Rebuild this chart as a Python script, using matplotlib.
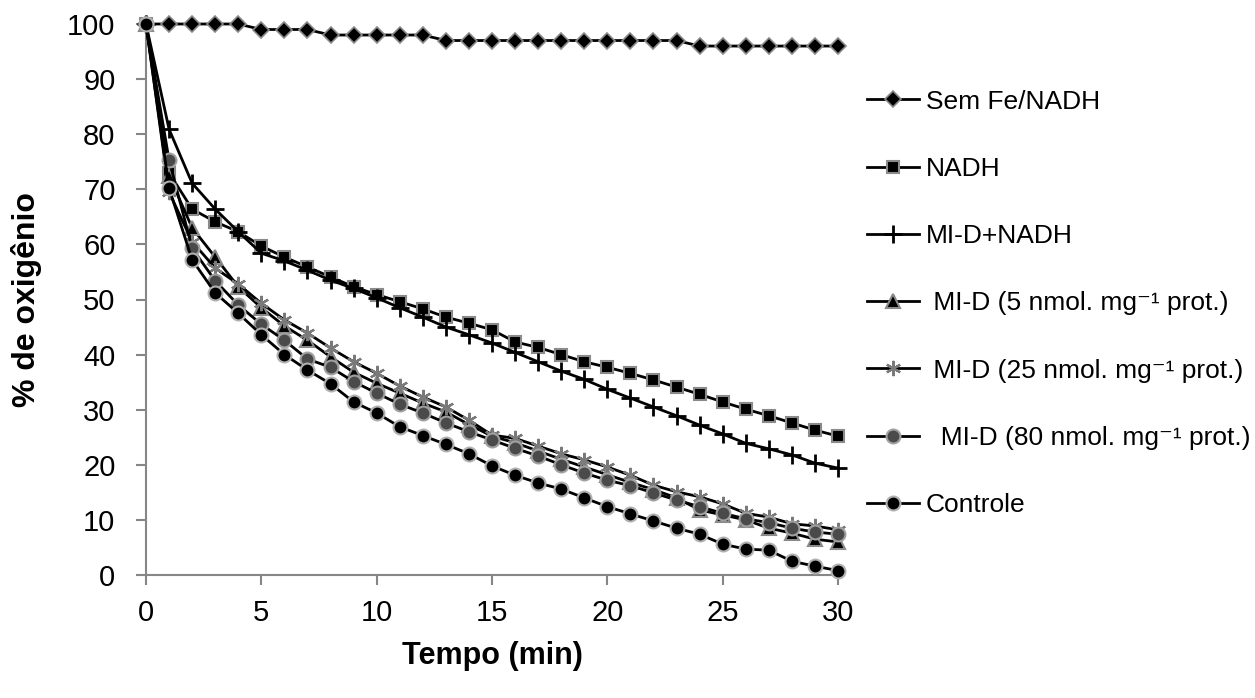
import matplotlib
matplotlib.use("Agg")
import matplotlib.pyplot as plt
import numpy as np

plt.rcParams['font.family'] = ['Liberation Sans', 'DejaVu Sans']

tempo = list(range(31))

sem_fe = [100, 100, 100, 100, 100, 99, 99, 99, 98, 98, 98, 98, 98, 97, 97, 97,
          97, 97, 97, 97, 97, 97, 97, 97, 96, 96, 96, 96, 96, 96, 96]
nadh = [100, 73.0, 66.4, 64.1, 62.3, 59.7, 57.7, 55.9, 54.1, 52.3, 50.9, 49.6,
        48.3, 46.8, 45.7, 44.5, 42.3, 41.3, 40.0, 38.7, 37.7, 36.6, 35.4, 34.1,
        32.8, 31.4, 30.1, 28.9, 27.6, 26.3, 25.2]
mid_nadh = [100, 80.9, 71.1, 66.4, 62.3, 58.4, 57.0, 55.3, 53.5, 52.0, 50.3,
            48.5, 46.8, 45.0, 43.6, 42.1, 40.4, 38.7, 37.0, 35.5, 33.7, 32.1,
            30.5, 28.9, 27.2, 25.6, 23.9, 22.9, 21.8, 20.3, 19.4]
mid_5 = [100, 72.5, 63.0, 57.7, 52.3, 48.5, 45.2, 42.6, 39.6, 36.8, 34.8, 33.0,
         31.2, 29.6, 27.3, 25.2, 24.0, 22.5, 21.0, 19.6, 18.2, 16.8, 15.5, 14.0,
         11.8, 10.9, 10.0, 8.5, 7.6, 6.5, 6.0]
mid_25 = [100, 69.5, 60.5, 55.7, 52.8, 49.3, 46.3, 43.9, 41.2, 38.7, 36.6, 34.3,
          32.3, 30.5, 28.1, 25.4, 24.8, 23.4, 22.0, 20.9, 19.6, 18.1, 16.3, 15.1,
          14.2, 12.9, 11.2, 10.5, 9.3, 8.9, 8.2]
mid_80 = [100, 75.3, 59.3, 53.4, 49.0, 45.5, 42.6, 39.2, 37.7, 35.1, 33.0, 31.0,
          29.4, 27.6, 26.0, 24.5, 23.0, 21.6, 20.0, 18.5, 17.2, 16.2, 14.9, 13.6,
          12.4, 11.2, 10.2, 9.5, 8.5, 7.8, 7.4]
controle = [100, 70.2, 57.2, 51.2, 47.5, 43.6, 40.0, 37.2, 34.7, 31.4, 29.4,
            26.9, 25.3, 23.7, 22.0, 19.8, 18.1, 16.7, 15.6, 14.0, 12.4, 11.1,
            9.8, 8.5, 7.4, 5.6, 4.7, 4.5, 2.5, 1.6, 0.8]

labels = ["Sem Fe/NADH", "NADH", "MI-D+NADH",
          " MI-D (5 nmol. mg\u207b\u00b9 prot.)",
          " MI-D (25 nmol. mg\u207b\u00b9 prot.)",
          "  MI-D (80 nmol. mg\u207b\u00b9 prot.)",
          "Controle"]

fig = plt.figure(figsize=(12.55, 6.98), dpi=100)
ax = fig.add_axes([146/1255, 1-575/698, (838-146)/1255, (575-24)/698])

lw = 2.0
edge = '#8a8a8a'
ax.plot(tempo, sem_fe, color='black', lw=lw, marker='D', ms=8, mfc='black', mec=edge, mew=1.2, clip_on=False, label=labels[0], zorder=3)
ax.plot(tempo, nadh, color='black', lw=lw, marker='s', ms=9, mfc='black', mec=edge, mew=1.5, clip_on=False, label=labels[1], zorder=3)
ax.plot(tempo, mid_nadh, color='black', lw=lw, marker='+', ms=13, mec='black', mew=2.0, clip_on=False, label=labels[2], zorder=3)
ax.plot(tempo, mid_5, color='black', lw=lw, marker='^', ms=10, mfc='black', mec=edge, mew=1.5, clip_on=False, label=labels[3], zorder=3)
ax.plot(tempo, mid_25, color='black', lw=lw, marker=(6, 2, 0), ms=11, mec='#7a7a7a', mew=1.6, clip_on=False, label=labels[4], zorder=3)
ax.plot(tempo, mid_80, color='black', lw=lw, marker='o', ms=10, mfc='#4a4a4a', mec='#a0a0a0', mew=1.5, clip_on=False, label=labels[5], zorder=3)
ax.plot(tempo, controle, color='black', lw=lw, marker='o', ms=10, mfc='black', mec='#b0b0b0', mew=1.5, clip_on=False, label=labels[6], zorder=3)

ax.set_xlim(0, 30)
ax.set_ylim(0, 100)
ax.set_xticks(range(0, 31, 5))
ax.set_yticks(range(0, 101, 10))
for s in ['top', 'right']:
    ax.spines[s].set_visible(False)
for s in ['left', 'bottom']:
    ax.spines[s].set_color('#868686')
    ax.spines[s].set_linewidth(1.5)
ax.tick_params(axis='both', colors='#868686', width=1.5, length=7, labelsize=21, labelcolor='black')
ax.tick_params(axis='x', pad=10)
ax.tick_params(axis='y', pad=15)

ax.set_xlabel("Tempo (min)", fontsize=22, fontweight='bold')
ax.set_ylabel("% de oxigênio", fontsize=23, fontweight='bold')
ax.xaxis.set_label_coords(0.5, (575 - 641) / 551)
ax.yaxis.set_label_coords((42 - 146) / 692, 0.5)

leg = fig.legend(loc='upper left', bbox_to_anchor=(856/1255, 1-79/698), frameon=False,
                 fontsize=19, handlelength=2.0, handletextpad=0.25, labelspacing=1.64,
                 borderaxespad=0)

fig.savefig("out.png", dpi=100)
